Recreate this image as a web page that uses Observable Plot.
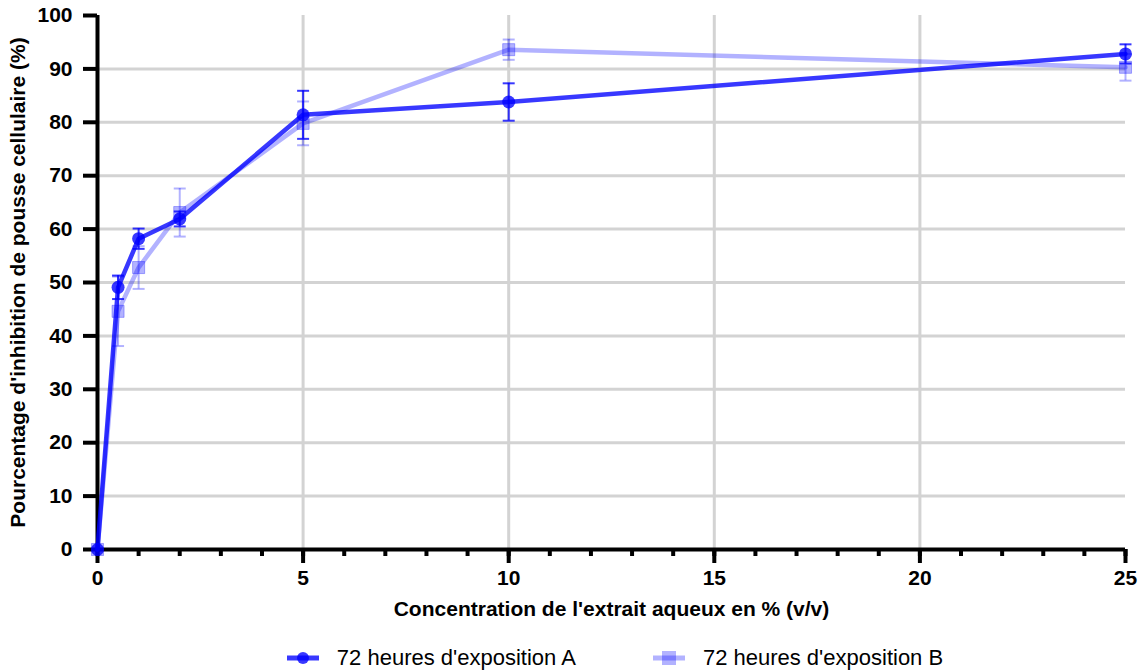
<!DOCTYPE html>
<html>
<head>
<meta charset="utf-8">
<script src="https://cdn.jsdelivr.net/npm/d3@7"></script>
<script src="https://cdn.jsdelivr.net/npm/@observablehq/plot@0.6"></script>
<style>
  html, body { margin: 0; padding: 0; background: #fff; }
  #chart svg, #chart svg text { font-family: "Liberation Sans", "DejaVu Sans", sans-serif !important; font-weight: bold; }
  .legend { display: flex; justify-content: center; gap: 77px; font-family: "Liberation Sans", "DejaVu Sans", sans-serif; font-size: 22px; height: 46px; align-items: center; margin-top: 10px; padding-left: 88px; }
  .legend span.item { display: inline-flex; align-items: center; gap: 18px; }
</style>
</head>
<body>
<div id="chart"></div>
<div class="legend" id="legend"></div>
<script>
const concentrations = [0, 0.5, 1, 2, 5, 10, 25];
const meanA = [0, 49.1, 58.2, 61.9, 81.4, 83.8, 92.8];
const errA  = [0, 2.2, 1.9, 1.4, 4.5, 3.5, 1.8];
const meanB = [0, 44.6, 52.8, 63.1, 79.8, 93.6, 90.3];
const errB  = [0, 6.5, 4.0, 4.5, 4.1, 1.9, 2.5];
const seriesNames = ["72 heures d'exposition A", "72 heures d'exposition B"];
const yTicks = [0, 10, 20, 30, 40, 50, 60, 70, 80, 90, 100];
const xTicks = [0, 5, 10, 15, 20, 25];
const xMinor = d3.range(0, 26);
const yTitle = "Pourcentage d'inhibition de pousse cellulaire (%)";
const xTitle = "Concentration de l'extrait aqueux en % (v/v)";

const rowsA = concentrations.map((c, i) => ({x: c, y: meanA[i], lo: meanA[i] - errA[i], hi: meanA[i] + errA[i]}));
const rowsB = concentrations.map((c, i) => ({x: c, y: meanB[i], lo: meanB[i] - errB[i], hi: meanB[i] + errB[i]}));
const errRowsA = rowsA.filter((d, i) => errA[i] > 0);
const errRowsB = rowsB.filter((d, i) => errB[i] > 0);

const colA = "rgba(0,0,255,0.78)";
const colB = "rgba(0,0,255,0.3)";
const capSymbol = {draw(ctx, size) { const w = Math.sqrt(size / Math.PI); ctx.moveTo(-w, 0); ctx.lineTo(w, 0); }};
const font = '"Liberation Sans", "DejaVu Sans", sans-serif';

const chart = Plot.plot({
  width: 1142,
  height: 625,
  marginLeft: 97,
  marginRight: 17,
  marginTop: 15,
  marginBottom: 76,
  style: {fontFamily: font, fontSize: "21px", color: "#000", background: "#fff"},
  x: {domain: [0, 25]},
  y: {domain: [0, 100]},
  marks: [
    Plot.gridY(yTicks.filter(t => t > 0 && t < 100), {stroke: "#d3d3d3", strokeOpacity: 1, strokeWidth: 3}),
    Plot.gridX(xTicks.filter(t => t > 0 && t < 25), {stroke: "#d3d3d3", strokeOpacity: 1, strokeWidth: 3}),
    Plot.axisY({ticks: yTicks, tickSize: 14, tickPadding: 11, strokeWidth: 4, label: null, fontSize: 21}),
    Plot.axisX({ticks: xMinor, tickSize: 7, strokeWidth: 4, text: null, label: null}),
    Plot.axisX({ticks: xTicks, tickSize: 14, tickPadding: 7, strokeWidth: 4, label: null, fontSize: 21}),
    Plot.ruleX([0], {stroke: "#000", strokeWidth: 4}),
    Plot.ruleY([0], {stroke: "#000", strokeWidth: 4}),
    // Series A
    Plot.line(rowsA, {x: "x", y: "y", stroke: colA, strokeWidth: 4.5}),
    Plot.ruleX(errRowsA, {x: "x", y1: "lo", y2: "hi", stroke: colA, strokeWidth: 2}),
    Plot.dot(errRowsA, {x: "x", y: "lo", symbol: capSymbol, r: 6, stroke: colA, strokeWidth: 2, fill: "none"}),
    Plot.dot(errRowsA, {x: "x", y: "hi", symbol: capSymbol, r: 6, stroke: colA, strokeWidth: 2, fill: "none"}),
    Plot.dot(rowsA, {x: "x", y: "y", r: 6.5, fill: colA, stroke: "none", symbol: "circle"}),
    // Series B
    Plot.line(rowsB, {x: "x", y: "y", stroke: colB, strokeWidth: 4.5}),
    Plot.ruleX(errRowsB, {x: "x", y1: "lo", y2: "hi", stroke: colB, strokeWidth: 2}),
    Plot.dot(errRowsB, {x: "x", y: "lo", symbol: capSymbol, r: 6, stroke: colB, strokeWidth: 2, fill: "none"}),
    Plot.dot(errRowsB, {x: "x", y: "hi", symbol: capSymbol, r: 6, stroke: colB, strokeWidth: 2, fill: "none"}),
    Plot.dot(rowsB, {x: "x", y: "y", r: 6.8, fill: colB, stroke: colB, strokeWidth: 1, symbol: "square"}),
    // Titles
    Plot.text([yTitle], {frameAnchor: "left", dx: -79, rotate: -90, text: d => d, fontSize: 21, fontWeight: "bold", textAnchor: "middle", fontFamily: font}),
    Plot.text([xTitle], {frameAnchor: "bottom", dy: 60, text: d => d, fontSize: 21, fontWeight: "bold", lineAnchor: "middle", fontFamily: font})
  ]
});
document.getElementById("chart").appendChild(chart);

const legend = document.getElementById("legend");
const swatch = (col, shape) => {
  const marker = shape === "circle"
    ? `<circle cx="16" cy="8" r="6" fill="${col}"/>`
    : `<rect x="9" y="1" width="14" height="14" fill="${col}"/>`;
  return `<svg width="32" height="16"><line x1="0" y1="8" x2="32" y2="8" stroke="${col}" stroke-width="5"/>${marker}</svg>`;
};
legend.innerHTML =
  `<span class="item">${swatch(colA, "circle")}<span>${seriesNames[0]}</span></span>` +
  `<span class="item">${swatch(colB, "square")}<span>${seriesNames[1]}</span></span>`;
</script>
</body>
</html>
